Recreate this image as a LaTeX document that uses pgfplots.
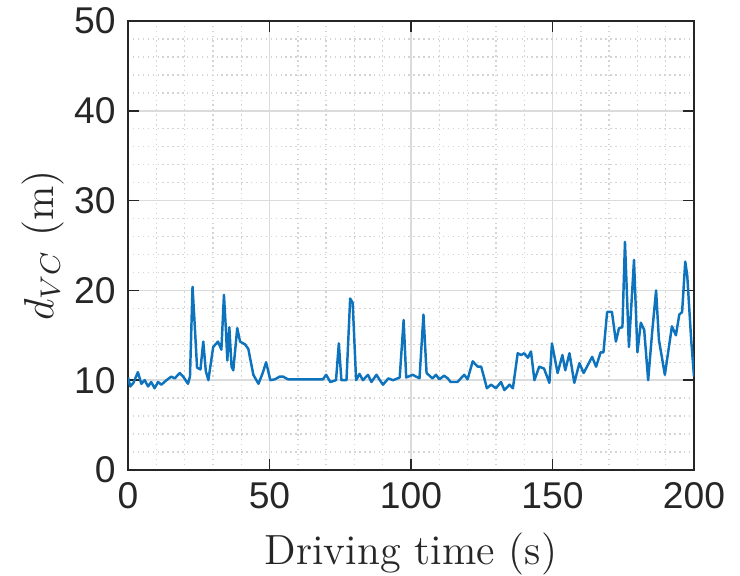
\documentclass[border=0pt]{standalone}
\usepackage{pgfplots}
\pgfplotsset{compat=1.18}
\usepackage{fontspec}
\newfontfamily\ticksfont{Liberation Sans}
\definecolor{mblue}{rgb}{0.05,0.45,0.74}
\definecolor{axgray}{rgb}{0.15,0.15,0.15}
\begin{document}
\begin{tikzpicture}
\begin{axis}[
  name=ax,
  scale only axis,
  width=56.6mm, height=44.9mm,
  xmin=0, xmax=200, ymin=0, ymax=50,
  xtick={0,50,...,200}, ytick={0,10,...,50},
  minor x tick num=4, minor y tick num=4,
  grid=both,
  major grid style={line width=0.4pt, draw=black!14},
  minor grid style={line width=0.4pt, draw=black!17, densely dotted},
  tick align=inside,
  major tick length=1.1mm, minor tick length=0pt,
  tick style={line width=0.5pt, draw=axgray},
  axis line style={line width=0.5pt, draw=axgray},
  /pgf/number format/assume math mode=true,
  tick label style={font=\ticksfont\fontsize{10.6}{12}\selectfont, text=axgray},
  label style={font=\fontsize{12}{14}\selectfont, text=axgray},
  xlabel={Driving time (s)},
  ylabel={$d_{VC}$ (m)},
  xlabel style={yshift=0pt},
  ylabel style={yshift=-4pt},
]
\addplot[mblue, line width=0.7pt, line join=round] coordinates {
(0,10.3) (0.8,9.3) (1.9,9.7) (3.5,10.9) (4.7,9.6) (5.9,10.0) (7.1,9.3) (8.2,9.8)
(9.4,9.1) (10.6,9.8) (11.8,9.5) (13.6,10.0) (15.3,10.4) (16.5,10.2) (18.3,10.8)
(19.5,10.4) (21.2,9.6) (21.9,10.4) (22.8,20.4) (23.6,16.0) (24.4,11.4) (25.6,11.2)
(26.6,14.3) (27.5,11.0) (28.4,10.0) (30.1,13.7) (31.8,14.3) (33.0,13.4) (33.9,19.5)
(34.6,15.6) (35.1,12.2) (35.8,15.9) (36.6,11.5) (37.2,11.1) (38.6,15.8) (39.6,14.3)
(41.3,14.0) (42.5,13.5) (44.3,10.6) (46.1,9.6) (47.6,10.8) (48.8,12.0) (50.3,10.0)
(51.9,10.1) (53.6,10.4) (54.8,10.4) (56.5,10.1) (60,10.1) (65,10.1) (68.9,10.1)
(70,10.6) (71.5,9.8) (73.5,10.0) (74.5,14.1) (75.4,10.0) (77.2,10.0) (78.5,19.1)
(79.4,18.6) (80.6,10.0) (81.8,10.7) (83,10.0) (84.8,10.6) (86,9.8) (87.8,10.6)
(89,10.0) (90.1,9.5) (92,10.2) (93.7,10.0) (96,10.3) (97.4,16.7) (98.3,10.3)
(100.6,10.6) (103,10.2) (104.4,17.3) (105.5,10.8) (107.6,10.2) (108.8,10.6)
(110,10.1) (111.7,10.5) (113,10.2) (114,9.8) (116.4,9.8) (118.8,10.6) (120,10.1)
(121.8,12.1) (123.6,11.5) (124.8,11.5) (126,10.1) (126.8,9.1) (128.3,9.5) (130,9.1)
(131.8,9.8) (133,8.9) (134.8,9.5) (136,9.1) (137.7,13.0) (138.9,12.8) (140,13.0)
(141.3,12.5) (142.4,13.2) (143.6,10.0) (145.3,11.5) (147,11.3) (148.9,9.7)
(149.8,14.1) (151.8,10.8) (153.5,12.8) (154.5,11.1) (156,13.0) (157.7,9.7)
(159.5,11.9) (161,10.8) (164,12.6) (165.4,11.5) (167,13.1) (168,13.1) (169.3,17.6)
(171,17.6) (172.4,14.3) (173.5,15.8) (174.7,15.9) (175.6,25.4) (177,13.7)
(178.8,23.4) (180,13.1) (181.2,16.4) (182.4,15.6) (183.8,10.0) (185.2,15.3)
(186.6,20.0) (187.6,14.5) (189.7,10.6) (192.2,16.0) (193.6,15.0) (194.8,17.3)
(195.8,17.6) (196.9,23.2) (197.6,21.7) (199,14.5) (200,10.4)
};
\end{axis}
\pgfresetboundingbox
\path[use as bounding box] (ax.south west) ++(-12.8mm,-10.6mm) rectangle ([xshift=4.6mm,yshift=2.1mm]ax.north east);
\end{tikzpicture}
\end{document}
